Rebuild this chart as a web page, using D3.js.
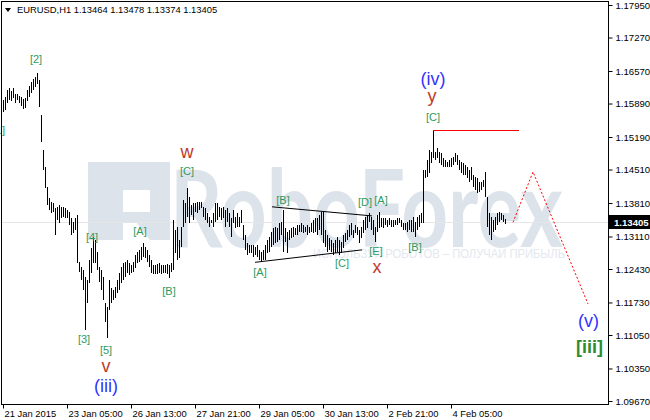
<!DOCTYPE html>
<html><head><meta charset="utf-8">
<script src="https://cdn.jsdelivr.net/npm/d3@7"></script>
<style>body{margin:0;background:#fff}svg{display:block}text{font-family:"Liberation Sans",Arial,sans-serif}</style>
</head><body><svg id="c" width="650" height="420"></svg>
<script>
const symbolTitle = "EURUSD,H1";
const lastOHLC = ["1.13464","1.13478","1.13374","1.13405"];
const lastPrice = 1.13405;
const highs = [
1.1596,1.1603,1.1617,1.1622,1.1615,1.1622,1.1609,1.1609,1.1605,1.1603,
1.1599,1.1601,1.1617,1.1626,1.1634,1.1640,1.1645,1.1653,1.1638,1.1565,
1.1492,1.1456,1.1415,1.1391,1.1383,1.1381,1.1371,1.1373,1.1377,1.1373,
1.1373,1.1371,1.1366,1.1362,1.1350,1.1341,1.1350,1.1356,1.1258,1.1247,
1.1241,1.1226,1.1220,1.1262,1.1287,1.1310,1.1304,1.1279,1.1247,1.1241,
1.1226,1.1172,1.1164,1.1220,1.1203,1.1199,1.1205,1.1220,1.1235,1.1247,
1.1256,1.1258,1.1262,1.1256,1.1251,1.1258,1.1272,1.1279,1.1283,1.1289,
1.1297,1.1289,1.1283,1.1272,1.1262,1.1251,1.1251,1.1253,1.1256,1.1251,
1.1251,1.1251,1.1253,1.1251,1.1256,1.1345,1.1325,1.1331,1.1304,1.1331,
1.1387,1.1381,1.1412,1.1394,1.1377,1.1381,1.1381,1.1383,1.1383,1.1383,
1.1373,1.1371,1.1360,1.1352,1.1345,1.1360,1.1381,1.1381,1.1373,1.1371,
1.1373,1.1366,1.1371,1.1360,1.1350,1.1366,1.1352,1.1360,1.1352,1.1366,
1.1335,1.1314,1.1297,1.1293,1.1293,1.1293,1.1289,1.1293,1.1283,1.1279,
1.1283,1.1293,1.1304,1.1310,1.1320,1.1329,1.1331,1.1329,1.1339,1.1341,
1.1366,1.1329,1.1320,1.1325,1.1329,1.1331,1.1329,1.1335,1.1335,1.1339,
1.1335,1.1331,1.1335,1.1331,1.1339,1.1345,1.1350,1.1350,1.1356,1.1362,
1.1362,1.1325,1.1314,1.1308,1.1304,1.1297,1.1304,1.1310,1.1304,1.1299,
1.1314,1.1318,1.1325,1.1335,1.1339,1.1325,1.1335,1.1331,1.1325,1.1331,
1.1345,1.1352,1.1356,1.1360,1.1352,1.1345,1.1331,1.1356,1.1362,1.1350,
1.1350,1.1350,1.1345,1.1350,1.1345,1.1345,1.1345,1.1350,1.1350,1.1345,
1.1339,1.1339,1.1341,1.1345,1.1345,1.1352,1.1341,1.1352,1.1356,1.1360,
1.1450,1.1450,1.1471,1.1492,1.1488,1.1534,1.1488,1.1496,1.1488,1.1486,
1.1475,1.1471,1.1467,1.1471,1.1475,1.1477,1.1486,1.1481,1.1471,1.1467,
1.1465,1.1460,1.1456,1.1450,1.1456,1.1440,1.1435,1.1433,1.1425,1.1425,
1.1429,1.1446,1.1394,1.1360,1.1352,1.1345,1.1352,1.1360,1.1362,1.1360,
1.1356,1.13478];
const lows = [
1.1571,1.1576,1.1590,1.1596,1.1594,1.1601,1.1590,1.1596,1.1590,1.1584,
1.1578,1.1580,1.1594,1.1603,1.1611,1.1617,1.1624,1.1630,1.1582,1.1509,
1.1450,1.1412,1.1377,1.1366,1.1360,1.1362,1.1314,1.1345,1.1339,1.1350,
1.1352,1.1350,1.1350,1.1335,1.1314,1.1318,1.1325,1.1256,1.1237,1.1220,
1.1199,1.1115,1.1172,1.1214,1.1235,1.1256,1.1256,1.1241,1.1216,1.1199,
1.1178,1.1132,1.1099,1.1157,1.1172,1.1178,1.1182,1.1193,1.1199,1.1214,
1.1220,1.1226,1.1235,1.1230,1.1235,1.1237,1.1245,1.1256,1.1258,1.1262,
1.1268,1.1266,1.1258,1.1247,1.1235,1.1233,1.1233,1.1233,1.1235,1.1233,
1.1235,1.1235,1.1233,1.1224,1.1237,1.1241,1.1276,1.1262,1.1266,1.1289,
1.1331,1.1339,1.1352,1.1339,1.1356,1.1345,1.1362,1.1360,1.1366,1.1371,
1.1352,1.1345,1.1339,1.1331,1.1339,1.1331,1.1341,1.1345,1.1352,1.1345,
1.1350,1.1331,1.1341,1.1331,1.1310,1.1339,1.1329,1.1331,1.1331,1.1339,
1.1304,1.1283,1.1272,1.1276,1.1276,1.1268,1.1272,1.1268,1.1262,1.1258,
1.1262,1.1262,1.1276,1.1279,1.1289,1.1293,1.1297,1.1299,1.1304,1.1314,
1.1279,1.1299,1.1276,1.1304,1.1308,1.1310,1.1314,1.1314,1.1320,1.1320,
1.1318,1.1320,1.1314,1.1318,1.1320,1.1318,1.1320,1.1314,1.1325,1.1314,
1.1297,1.1289,1.1279,1.1283,1.1279,1.1272,1.1276,1.1279,1.1272,1.1276,
1.1287,1.1299,1.1304,1.1310,1.1314,1.1308,1.1318,1.1314,1.1297,1.1308,
1.1318,1.1325,1.1329,1.1341,1.1325,1.1314,1.1299,1.1320,1.1329,1.1331,
1.1329,1.1335,1.1331,1.1335,1.1331,1.1331,1.1335,1.1335,1.1339,1.1331,
1.1325,1.1325,1.1320,1.1325,1.1320,1.1320,1.1310,1.1325,1.1331,1.1339,
1.1339,1.1433,1.1435,1.1444,1.1465,1.1475,1.1471,1.1475,1.1465,1.1460,
1.1456,1.1456,1.1456,1.1456,1.1456,1.1460,1.1467,1.1460,1.1450,1.1444,
1.1440,1.1440,1.1433,1.1425,1.1429,1.1415,1.1408,1.1402,1.1404,1.1408,
1.1415,1.1394,1.1331,1.1314,1.1304,1.1320,1.1325,1.1335,1.1341,1.1345,
1.1341,1.13374];
const yTicks = [1.17950,1.17270,1.16570,1.15890,1.15190,1.14510,1.13810,1.13110,1.12430,1.11730,1.11050,1.10350,1.09670];
const xTickIdx = [0,32,64,96,128,160,192,224];
const xTickLabels = ["21 Jan 2015","23 Jan 05:00","26 Jan 13:00","27 Jan 21:00","29 Jan 05:00","30 Jan 13:00","2 Feb 21:00","4 Feb 05:00"];
// wave labels: text, bar index, price, kind
const waveText  = ["[1]","[2]","[3]","[4]","[5]","v","(iii)","[A]","[B]","[C]","w","[A]","[B]","[C]","[D]","[E]","x","[A]","[B]","[C]","y","(iv)","(v)","[iii]"];
const waveIdx   = [-2,16.5,40.5,44.5,51.5,51.5,51.5,68.5,83,92,92,128.5,140,169.5,181,186.5,187,189,206,215,214.5,215,292.75,293.25];
const wavePrice = [1.1532,1.1680,1.1095,1.1308,1.1072,1.1039,1.0997,1.1321,1.1195,1.1446,1.1486,1.1235,1.1385,1.1254,1.1381,1.1279,1.1246,1.1385,1.1287,1.1559,1.1603,1.1638,1.1134,1.1078];
const waveKind  = ["g","g","g","g","g","r","b","g","g","g","r","g","g","g","g","g","r","g","g","g","r","b","b","G"];
const triUpperIdx = [134.5,184.5], triUpperPrice = [1.1373,1.1354];
const triLowerIdx = [126,179.5],   triLowerPrice = [1.1257,1.1283];
const levelIdx = [215,258], levelPrice = 1.1534;
const projIdx = [255,265,292.5], projPrice = [1.13405,1.1446,1.1170];

const svg = d3.select('#c');
const L=1, T=1, R=608, B=404;
const x = d3.scaleLinear().domain([0,1]).range([3,5]);
const y = d3.scaleLinear().domain([1.0967,1.1795]).range([401,5]);

// watermark
const wm = svg.append('g').attr('fill','#dde3eb');
wm.append('path').attr('fill-rule','evenodd')
  .attr('d','M88,162H170V240H150L136,222H123V240H88Z M123,190H150V212H123Z');
wm.append('text').attr('x',170).attr('y',247).attr('font-size',108).attr('font-weight','bold')
  .attr('textLength',393).attr('lengthAdjust','spacingAndGlyphs')
  .style('font-family','Lato, "Open Sans", sans-serif').text('RoboForex');
wm.append('text').attr('x',313).attr('y',258).attr('font-size',13.5).attr('fill','#e3e8ef')
  .attr('textLength',252).attr('lengthAdjust','spacingAndGlyphs')
  .text('ИСПОЛЬЗУЙ РОБОТОВ – ПОЛУЧАЙ ПРИБЫЛЬ');

// bid line
svg.append('line').attr('x1',L).attr('x2',R).attr('y1',Math.round(y(lastPrice))+0.5).attr('y2',Math.round(y(lastPrice))+0.5)
  .attr('stroke','#e6e6e6');

// bars
svg.append('g').attr('stroke','#000').attr('shape-rendering','crispEdges')
  .selectAll('line').data(highs).join('line')
  .attr('x1',(d,i)=>Math.round(x(i))+0.5).attr('x2',(d,i)=>Math.round(x(i))+0.5)
  .attr('y1',d=>Math.round(y(d))).attr('y2',(d,i)=>Math.max(Math.round(y(lows[i])),Math.round(y(d))+1));

// triangle lines
const ln = d3.line().x(d=>x(d[0])).y(d=>y(d[1]));
svg.append('path').attr('d',ln(triUpperIdx.map((v,i)=>[v,triUpperPrice[i]]))).attr('stroke','#000').attr('fill','none');
svg.append('path').attr('d',ln(triLowerIdx.map((v,i)=>[v,triLowerPrice[i]]))).attr('stroke','#000').attr('fill','none');
// level
svg.append('line').attr('x1',x(levelIdx[0])).attr('x2',x(levelIdx[1])).attr('y1',Math.round(y(levelPrice))+0.5).attr('y2',Math.round(y(levelPrice))+0.5)
  .attr('stroke','#ff0000').attr('stroke-width',1);
// projection
svg.append('path').attr('d',ln(projIdx.map((v,i)=>[v,projPrice[i]]))).attr('stroke','#ff0000').attr('fill','none').attr('stroke-dasharray','2,2');

// wave labels
const kindStyle = {g:{fs:11,c:'#2e9a5e',w:'normal'}, r:{fs:18,c:'#c0392b',w:'normal'}, b:{fs:18,c:'#3333ff',w:'normal'}, G:{fs:18,c:'#2e8b2e',w:'bold'}};
svg.append('g').selectAll('text').data(waveText).join('text')
  .attr('x',(d,i)=>x(waveIdx[i])).attr('y',(d,i)=>y(wavePrice[i])+kindStyle[waveKind[i]].fs*0.3)
  .attr('text-anchor','middle').attr('font-size',(d,i)=>kindStyle[waveKind[i]].fs)
  .attr('font-weight',(d,i)=>kindStyle[waveKind[i]].w)
  .attr('fill',(d,i)=>kindStyle[waveKind[i]].c).text(d=>d);

// frame
svg.append('rect').attr('x',L+0.5).attr('y',T+0.5).attr('width',R-L).attr('height',B-T).attr('fill','none').attr('stroke','#000');

// y axis
const ya = svg.append('g').attr('transform',`translate(${R+0.5},0)`)
  .call(d3.axisRight(y).tickValues(yTicks).tickSize(4).tickPadding(3).tickFormat(d3.format('.5f')));
ya.select('.domain').remove();
ya.selectAll('text').attr('font-size',9.6).attr('fill','#000').style('font-family','"Liberation Sans",Arial,sans-serif');
ya.selectAll('line').attr('stroke','#000');

// x axis
const xa = svg.append('g').attr('transform',`translate(0,${B+0.5})`)
  .call(d3.axisBottom(x).tickValues(xTickIdx).tickSize(4).tickFormat((d,i)=>xTickLabels[i]));
xa.select('.domain').remove();
xa.selectAll('text').attr('font-size',9.4).attr('text-anchor','start').attr('dx',1).attr('y',6).attr('fill','#000')
  .style('font-family','"Liberation Sans",Arial,sans-serif');
xa.selectAll('line').attr('stroke','#000');

// price tag
const py = Math.round(y(lastPrice));
svg.append('rect').attr('x',R+1).attr('y',py-7).attr('width',650-R-1).attr('height',14).attr('fill','#000');
svg.append('text').attr('x',R+6).attr('y',py+3.5).attr('font-size',9.6).attr('fill','#fff').attr('font-weight','bold').text(d3.format('.5f')(lastPrice));

// title
svg.append('path').attr('d','M5,8H11L8,12Z').attr('fill','#000');
svg.append('text').attr('x',17).attr('y',13).attr('font-size',9.4).attr('fill','#000')
  .text(symbolTitle + '  ' + lastOHLC.join(' '));
</script></body></html>
